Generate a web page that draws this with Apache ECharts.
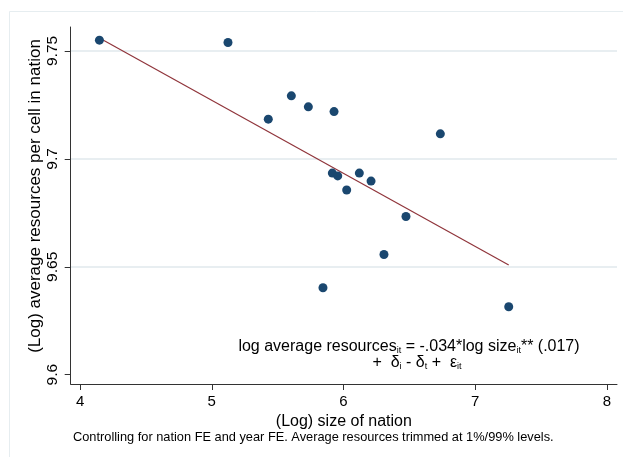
<!DOCTYPE html>
<html lang="en">
<head>
  <meta charset="UTF-8">
  <script type="text/javascript" src="https://cdn.jsdelivr.net/npm/echarts@6/dist/echarts.min.js"></script>
  <title>Log average resources vs log size of nation</title>
  <style type="text/css">
    * {
      margin: 0;
      padding: 0;
    }

    html, body {
      width: 100%;
      height: 100%;
      background-color: #fff;
    }

    #chart {
      width: 623px;
      height: 457px;
    }
  </style>
</head>

<body>
<div id="chart"></div>
</body>
<script type="text/javascript">
  // (Log) size of nation, one value per nation point
  var sizeLog = [4.147, 5.123, 5.429, 5.604, 5.733, 5.928, 6.735, 5.915, 5.956, 6.120, 6.209, 6.024, 6.474, 6.307, 5.844, 7.254]
  // (Log) average resources per cell, same order
  var resLog = [9.755, 9.7539, 9.7184, 9.7292, 9.7241, 9.7219, 9.7116, 9.6934, 9.6921, 9.6934, 9.6897, 9.6856, 9.6733, 9.6557, 9.6403, 9.6315]
  // fitted line end points
  var fitX = [4.147, 7.254]
  var fitY = [9.756, 9.6508]
  // tick values
  var xTicks = [4, 5, 6, 7, 8]
  var yTicks = [9.6, 9.65, 9.7, 9.75]
  var yGrid = [9.65, 9.7, 9.75]

  var FONT = '"Liberation Sans", Arial, sans-serif'

  var points = sizeLog.map(function (x, i) {
    return [x, resLog[i]]
  })
  var fit = fitX.map(function (x, i) {
    return [x, fitY[i]]
  })

  var myChart = echarts.init(document.getElementById('chart'))
  var option = {
    animation: false,
    backgroundColor: '#fff',
    grid: {
      left: 70.7,
      right: 6,
      top: 27,
      bottom: 73
    },
    xAxis: {
      type: 'value',
      min: 3.929,
      max: 8.076,
      name: '(Log) size of nation',
      nameLocation: 'middle',
      nameGap: 26,
      nameTextStyle: {color: '#000', fontSize: 16, fontFamily: FONT},
      axisLine: {onZero: false, lineStyle: {color: '#333', width: 1}},
      axisTick: {show: true, length: 6, customValues: xTicks, lineStyle: {color: '#333'}},
      axisLabel: {customValues: xTicks, margin: 10, color: '#000', fontSize: 15, fontFamily: FONT},
      splitLine: {show: false}
    },
    yAxis: {
      type: 'value',
      min: 9.5957,
      max: 9.7611,
      axisLine: {show: true, onZero: false, lineStyle: {color: '#333', width: 1}},
      axisTick: {show: true, length: 6, customValues: yTicks, lineStyle: {color: '#333'}},
      axisLabel: {
        customValues: yTicks,
        rotate: 90,
        margin: 10,
        color: '#000',
        fontSize: 15.5,
        fontFamily: FONT
      },
      splitLine: {show: false}
    },
    graphic: [
      {
        type: 'rect',
        silent: true,
        z: -10,
        shape: {x: 9.5, y: 11.5, width: 640, height: 460},
        style: {fill: 'none', stroke: '#e6edf0', lineWidth: 1}
      },
      {
        type: 'text',
        x: 35,
        y: 196,
        rotation: Math.PI / 2,
        style: {
          text: '(Log) average resources per cell in nation',
          fontSize: 17,
          fontFamily: FONT,
          fill: '#000',
          align: 'center',
          verticalAlign: 'middle'
        }
      },
      {
        type: 'text',
        x: 409,
        y: 347,
        style: {
          text: 'log average resources{s|it} = -.034*log size{s|it}** (.017)',
          fontSize: 16,
          fontFamily: FONT,
          fill: '#000',
          align: 'center',
          verticalAlign: 'middle',
          rich: {
            s: {fontSize: 9, fontFamily: FONT, fill: '#000', verticalAlign: 'bottom'}
          }
        }
      },
      {
        type: 'text',
        x: 417,
        y: 363,
        style: {
          text: '+  δ{s|i} - δ{s|t} +  ε{s|it}',
          fontSize: 16,
          fontFamily: FONT,
          fill: '#000',
          align: 'center',
          verticalAlign: 'middle',
          rich: {
            s: {fontSize: 9, fontFamily: FONT, fill: '#000', verticalAlign: 'bottom'}
          }
        }
      },
      {
        type: 'text',
        x: 73,
        y: 437,
        style: {
          text: 'Controlling for nation FE and year FE. Average resources trimmed at 1%/99% levels.',
          fontSize: 12.8,
          fontFamily: FONT,
          fill: '#000',
          align: 'left',
          verticalAlign: 'middle'
        }
      }
    ],
    series: [
      {
        name: 'grid',
        type: 'line',
        z: 0,
        data: [],
        silent: true,
        markLine: {
          z: 0,
          silent: true,
          symbol: 'none',
          animation: false,
          label: {show: false},
          lineStyle: {color: '#e8eef1', width: 2, type: 'solid'},
          data: yGrid.map(function (v) {
            return {yAxis: v}
          })
        }
      },
      {
        name: 'fit',
        type: 'line',
        z: 2,
        data: fit,
        symbol: 'none',
        silent: true,
        lineStyle: {color: '#90353b', width: 1.2}
      },
      {
        name: 'nations',
        type: 'scatter',
        z: 3,
        data: points,
        symbol: 'circle',
        symbolSize: 9,
        itemStyle: {color: '#1a476f', opacity: 1}
      }
    ]
  }
  myChart.setOption(option)
</script>
</html>
